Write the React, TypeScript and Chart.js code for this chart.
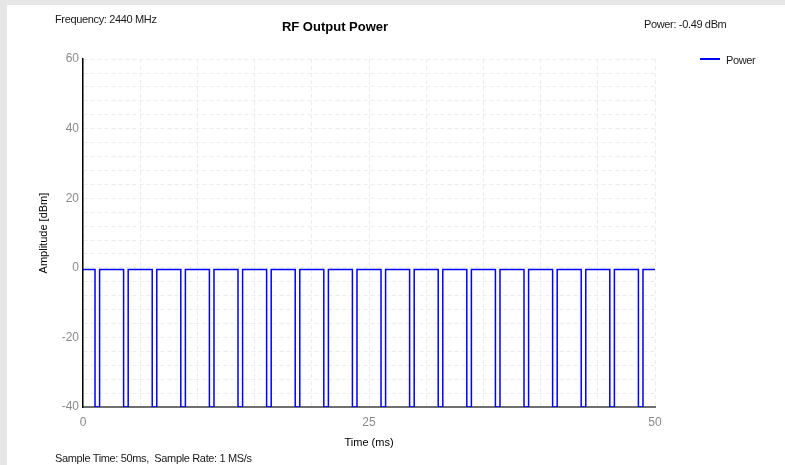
import React, { useEffect, useRef } from "react";
import { Chart, registerables } from "chart.js";

Chart.register(...registerables);

// ---- Data ----
const chartTitle = "RF Output Power";
const seriesLabel = "Power";
const frequencyText = "Frequency: 2440 MHz";
const powerText = "Power: -0.49 dBm";
const sampleText = "Sample Time: 50ms,  Sample Rate: 1 MS/s";
const xAxisTitle = "Time (ms)";
const yAxisTitle = "Amplitude [dBm]";

const timeRange = [0, 50]; // ms
const ampRange = [-40, 60]; // dBm
const xLabelTicks = [0, 25, 50];
const yLabelTicks = [-40, -20, 0, 20, 40, 60];

const highLevel = -0.49; // dBm
const lowLevel = -40; // dBm (clipped at axis bottom)

// Falling / rising edge times of the 20 off-gaps (ms)
const fallTimes = [
  1.05, 3.55, 6.05, 8.55, 11.05, 13.55, 16.05, 18.55, 21.05, 23.55,
  26.05, 28.55, 31.05, 33.55, 36.05, 38.55, 41.05, 43.55, 46.05, 48.55,
];
const riseTimes = [
  1.45, 3.95, 6.45, 8.95, 11.45, 13.95, 16.45, 18.95, 21.45, 23.95,
  26.45, 28.95, 31.45, 33.95, 36.45, 38.95, 41.45, 43.95, 46.45, 48.95,
];

const FONT = "'Liberation Sans', Arial, sans-serif";

function buildPoints() {
  const pts: { x: number; y: number }[] = [{ x: timeRange[0], y: highLevel }];
  for (let i = 0; i < fallTimes.length; i++) {
    pts.push({ x: fallTimes[i], y: highLevel });
    pts.push({ x: fallTimes[i], y: lowLevel });
    pts.push({ x: riseTimes[i], y: lowLevel });
    pts.push({ x: riseTimes[i], y: highLevel });
  }
  pts.push({ x: timeRange[1], y: highLevel });
  return pts;
}

export default function App() {
  const ref = useRef<HTMLCanvasElement | null>(null);

  useEffect(() => {
    if (!ref.current) return;
    const chart = new Chart(ref.current, {
      type: "line",
      data: {
        datasets: [
          {
            label: seriesLabel,
            data: buildPoints(),
            borderColor: "#0000ff",
            borderWidth: 1.5,
            pointRadius: 0,
            tension: 0,
          },
        ],
      },
      options: {
        responsive: false,
        animation: false,
        devicePixelRatio: 1,
        layout: { padding: { left: 15, right: 130, top: 0, bottom: 14 } },
        plugins: {
          legend: { display: false },
          tooltip: { enabled: false },
          title: {
            display: true,
            text: chartTitle,
            color: "#000",
            font: { family: FONT, size: 13, weight: "bold" },
            padding: { top: 19.5, bottom: 24 },
          },
        },
        scales: {
          x: {
            type: "linear",
            min: timeRange[0],
            max: timeRange[1],
            afterFit: (s: any) => {
              s.height = 44;
            },
            ticks: {
              stepSize: 5,
              autoSkip: false,
              maxRotation: 0,
              padding: 8,
              color: "#8a8a8a",
              font: { family: FONT, size: 12 },
              callback: (v: any) => (xLabelTicks.includes(Number(v)) ? String(v) : ""),
            },
            grid: {
              color: "#ececec",
              drawTicks: false,
            },
            border: { color: "#707070", width: 2, dash: [4, 3] },
            title: {
              display: true,
              text: xAxisTitle,
              color: "#000",
              font: { family: FONT, size: 11 },
              padding: { top: 0, bottom: 1.5 },
            },
          },
          y: {
            type: "linear",
            min: ampRange[0],
            max: ampRange[1],
            afterFit: (s: any) => {
              s.width = 68;
            },
            ticks: {
              stepSize: 4,
              autoSkip: false,
              padding: 4,
              color: "#8a8a8a",
              font: { family: FONT, size: 12 },
              callback: (v: any) => (yLabelTicks.includes(Number(v)) ? String(v) : ""),
            },
            grid: {
              color: "#ececec",
              drawTicks: false,
            },
            border: { color: "#000", width: 1.5, dash: [4, 3] },
            title: {
              display: true,
              text: yAxisTitle,
              color: "#000",
              font: { family: FONT, size: 11 },
              padding: { top: 22, bottom: 0 },
            },
          },
        },
      } as any,
    });
    return () => chart.destroy();
  }, []);

  const txt: React.CSSProperties = {
    position: "absolute",
    fontFamily: FONT,
    fontSize: 11,
    lineHeight: "11px",
    color: "#1a1a1a",
    letterSpacing: "-0.35px",
    whiteSpace: "pre",
  };

  return (
    <div
      style={{
        position: "fixed",
        left: 0,
        top: 0,
        width: 785,
        height: 465,
        background: "#e6e6e6",
        overflow: "hidden",
      }}
    >
      <div
        style={{
          position: "absolute",
          left: 7,
          top: 5,
          right: 0,
          bottom: 0,
          background: "#ffffff",
        }}
      />
      <canvas
        ref={ref}
        width={785}
        height={465}
        style={{ position: "absolute", left: 0, top: 0, width: 785, height: 465 }}
      />
      <div style={{ ...txt, left: 55, top: 13.8 }}>{frequencyText}</div>
      <div style={{ ...txt, left: 644, top: 18.7 }}>{powerText}</div>
      <div style={{ ...txt, left: 55, top: 453.4 }}>{sampleText}</div>
      <div
        style={{
          position: "absolute",
          left: 700,
          top: 57.5,
          width: 20,
          height: 2,
          background: "#0000ff",
        }}
      />
      <div style={{ ...txt, left: 726, top: 54.7 }}>{seriesLabel}</div>
    </div>
  );
}
